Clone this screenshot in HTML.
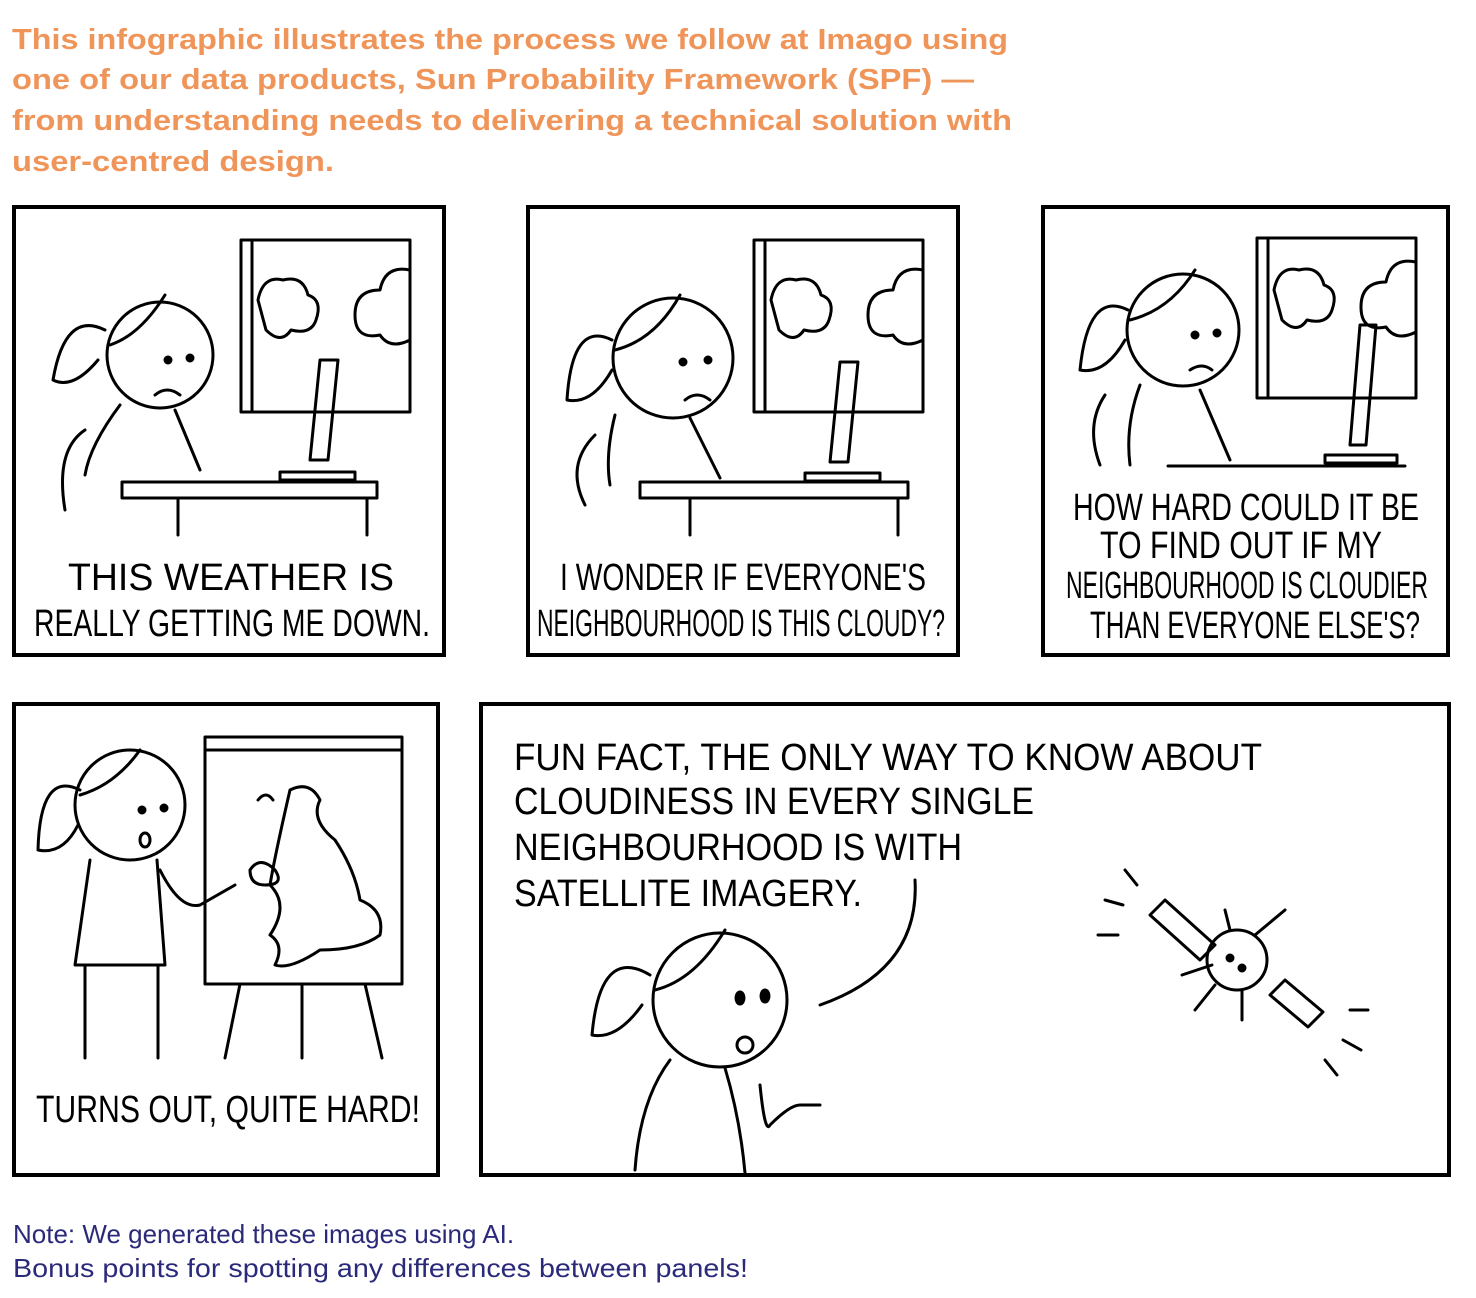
<!DOCTYPE html>
<html><head><meta charset="utf-8"><style>
html,body{margin:0;padding:0;background:#fff;}
svg{display:block}
.h{font-family:"Liberation Sans",sans-serif;font-weight:bold;fill:#F0955A;font-size:29px}
.c{font-family:"Liberation Sans",sans-serif;fill:#000;font-size:38px}
.n{font-family:"Liberation Sans",sans-serif;fill:#2B2A7A;font-size:26px}
.p{fill:none;stroke:#000;stroke-width:4}
.d{fill:none;stroke:#000;stroke-width:3;stroke-linecap:round;stroke-linejoin:round}
</style></head><body>
<svg width="1476" height="1298" viewBox="0 0 1476 1298" xmlns="http://www.w3.org/2000/svg">
<text class="h" x="12" y="49" textLength="996" lengthAdjust="spacingAndGlyphs">This infographic illustrates the process we follow at Imago using</text>
<text class="h" x="12" y="89" textLength="962" lengthAdjust="spacingAndGlyphs">one of our data products, Sun Probability Framework (SPF) —</text>
<text class="h" x="12" y="130" textLength="1000" lengthAdjust="spacingAndGlyphs">from understanding needs to delivering a technical solution with</text>
<text class="h" x="12" y="171" textLength="322" lengthAdjust="spacingAndGlyphs">user-centred design.</text>

<rect class="p" x="14" y="207" width="430" height="448"/>
<rect class="p" x="528" y="207" width="430" height="448"/>
<rect class="p" x="1043" y="207" width="405" height="448"/>
<rect class="p" x="14" y="704" width="424" height="471"/>
<rect class="p" x="481" y="704" width="968" height="471"/>

<!-- panel 1 -->
<g class="d">
<rect x="241" y="240" width="169" height="172"/><line x1="252" y1="240" x2="252" y2="412"/>
<path d="M258 300 q5-25 25-20 q20-5 25 15 q15 5 8 25 q-5 15-25 10 q-10 15-25 0 z"/>
<path d="M410 270 q-25-5-30 20 q-25 0-25 25 q0 25 25 20 q10 15 30 5"/>
<circle cx="160" cy="355" r="53"/>
<path d="M110 345 q30-10 55-50 M105 330 q-40-20-52 50 q20 10 45-20"/>
<circle cx="168" cy="360" r="3" fill="#000"/><circle cx="190" cy="358" r="3" fill="#000"/>
<path d="M155 395 q12-10 25 0"/>
<path d="M120 405 q-30 40-35 70 M175 410 l25 60"/>
<path d="M85 430 q-30 20-20 80"/>
<path d="M320 360 l18 0 l-10 100 l-18 0 z"/><path d="M280 472 h75 v8 h-75 z"/>
<rect x="122" y="482" width="255" height="16"/><line x1="178" y1="498" x2="178" y2="535"/><line x1="367" y1="498" x2="367" y2="535"/>
</g>
<text class="c" x="68" y="590" textLength="326" lengthAdjust="spacingAndGlyphs">THIS WEATHER IS</text>
<text class="c" x="34" y="636" textLength="396" lengthAdjust="spacingAndGlyphs">REALLY GETTING ME DOWN.</text>

<!-- panel 2 -->
<g class="d">
<rect x="754" y="240" width="169" height="172"/><line x1="765" y1="240" x2="765" y2="412"/>
<path d="M771 300 q5-25 25-20 q20-5 25 15 q15 5 8 25 q-5 15-25 10 q-10 15-25 0 z"/>
<path d="M923 270 q-25-5-30 20 q-25 0-25 25 q0 25 25 20 q10 15 30 5"/>
<circle cx="673" cy="358" r="60"/>
<path d="M615 350 q40-10 65-55 M612 340 q-40-20-45 60 q25 5 45-30"/>
<circle cx="683" cy="362" r="3" fill="#000"/><circle cx="708" cy="360" r="3" fill="#000"/>
<path d="M685 400 q12-10 25 0"/>
<path d="M615 415 q-10 40-5 70 M690 418 l30 60"/>
<path d="M595 435 q-30 30-10 70"/>
<path d="M840 362 l18 0 l-10 100 l-18 0 z"/><path d="M805 473 h75 v8 h-75 z"/>
<rect x="640" y="482" width="268" height="16"/><line x1="690" y1="498" x2="690" y2="535"/><line x1="898" y1="498" x2="898" y2="535"/>
</g>
<text class="c" x="560" y="590" textLength="366" lengthAdjust="spacingAndGlyphs">I WONDER IF EVERYONE'S</text>
<text class="c" x="537" y="636" textLength="408" lengthAdjust="spacingAndGlyphs">NEIGHBOURHOOD IS THIS CLOUDY?</text>

<!-- panel 3 -->
<g class="d">
<rect x="1257" y="238" width="159" height="160"/><line x1="1268" y1="238" x2="1268" y2="398"/>
<path d="M1274 290 q5-25 25-20 q20-5 25 15 q15 5 8 25 q-5 15-25 10 q-10 15-25 0 z"/>
<path d="M1416 262 q-25-5-30 20 q-25 0-25 25 q0 25 25 20 q10 15 30 5"/>
<circle cx="1183" cy="330" r="56"/>
<path d="M1130 320 q40-10 65-50 M1128 310 q-40-20-48 60 q25 5 45-30"/>
<circle cx="1195" cy="335" r="3" fill="#000"/><circle cx="1217" cy="333" r="3" fill="#000"/>
<path d="M1190 370 q12-8 22 0"/>
<path d="M1140 385 q-15 40-10 80 M1200 390 l30 70"/>
<path d="M1105 395 q-20 30-5 70"/>
<path d="M1360 325 l16 0 l-10 120 l-16 0 z"/><path d="M1325 455 h72 v8 h-72 z"/>
<line x1="1168" y1="466" x2="1405" y2="466"/>
</g>
<text class="c" x="1073" y="520" textLength="346" lengthAdjust="spacingAndGlyphs">HOW HARD COULD IT BE</text>
<text class="c" x="1100" y="558" textLength="282" lengthAdjust="spacingAndGlyphs">TO FIND OUT IF MY</text>
<text class="c" x="1066" y="598" textLength="362" lengthAdjust="spacingAndGlyphs">NEIGHBOURHOOD IS CLOUDIER</text>
<text class="c" x="1090" y="638" textLength="330" lengthAdjust="spacingAndGlyphs">THAN EVERYONE ELSE'S?</text>

<!-- panel 4 -->
<g class="d">
<rect x="205" y="737" width="197" height="247"/><line x1="205" y1="750" x2="402" y2="750"/>
<path d="M290 790 q20-10 30 10 q-10 20 15 40 q20 30 25 60 q25 10 20 35 q-20 15-60 15 q-30 20-45 15 q10-20-5-30 q20-30 0-50 q5-30 20-95z"/>
<path d="M258 800 q8-10 15 0" /><path d="M250 870 q10-15 25 0 q10 15-10 15 q-15 0-15-15z"/>
<circle cx="130" cy="805" r="55"/>
<path d="M80 795 q35-10 60-45 M80 790 q-40-20-42 60 q25 5 40-25"/>
<circle cx="142" cy="810" r="3" fill="#000"/><circle cx="164" cy="808" r="3" fill="#000"/>
<ellipse cx="145" cy="840" rx="5" ry="7"/>
<path d="M90 860 l-15 105 h90 l-8-105"/>
<path d="M160 870 q20 40 40 35 l35-20"/>
<line x1="85" y1="965" x2="85" y2="1058"/><line x1="158" y1="965" x2="158" y2="1058"/>
<line x1="240" y1="984" x2="225" y2="1058"/><line x1="302" y1="984" x2="302" y2="1058"/><line x1="365" y1="984" x2="382" y2="1058"/>
</g>
<text class="c" x="36" y="1122" textLength="384" lengthAdjust="spacingAndGlyphs">TURNS OUT, QUITE HARD!</text>

<!-- panel 5 -->
<text class="c" x="514" y="770" textLength="748" lengthAdjust="spacingAndGlyphs">FUN FACT, THE ONLY WAY TO KNOW ABOUT</text>
<text class="c" x="514" y="814" textLength="520" lengthAdjust="spacingAndGlyphs">CLOUDINESS IN EVERY SINGLE</text>
<text class="c" x="514" y="860" textLength="448" lengthAdjust="spacingAndGlyphs">NEIGHBOURHOOD IS WITH</text>
<text class="c" x="514" y="906" textLength="348" lengthAdjust="spacingAndGlyphs">SATELLITE IMAGERY.</text>
<g class="d">
<path d="M915 880 q5 90-95 125"/>
<circle cx="720" cy="1000" r="67"/>
<path d="M655 990 q40-10 70-60 M650 975 q-50-30-58 60 q25 5 50-30"/>
<ellipse cx="740" cy="998" rx="4" ry="6" fill="#000"/><ellipse cx="765" cy="996" rx="4" ry="6" fill="#000"/>
<ellipse cx="745" cy="1045" rx="8" ry="8"/>
<path d="M670 1060 q-30 40-35 110 M725 1068 q15 50 20 105 M760 1085 q5 50 10 40 q20-20 30-20 h20"/>
<circle cx="1237" cy="960" r="30"/>
<circle cx="1230" cy="958" r="3" fill="#000"/><circle cx="1242" cy="968" r="3" fill="#000"/>
<path d="M1150 915 l15-15 l50 45 l-15 15 z M1270 995 l15-15 l38 32 l-15 15 z"/>
<path d="M1230 930 l-5-20 M1255 935 l30-25 M1215 985 l-20 25 M1242 990 l0 30 M1212 965 l-30 10"/>
<path d="M1125 870 l12 15 M1105 900 l18 5 M1098 935 h20 M1350 1010 h18 M1343 1040 l18 10 M1325 1060 l12 15"/>
</g>

<text class="n" x="13" y="1243">Note: We generated these images using AI.</text>
<text class="n" x="13" y="1277" textLength="735" lengthAdjust="spacingAndGlyphs">Bonus points for spotting any differences between panels!</text>
</svg>
</body></html>
